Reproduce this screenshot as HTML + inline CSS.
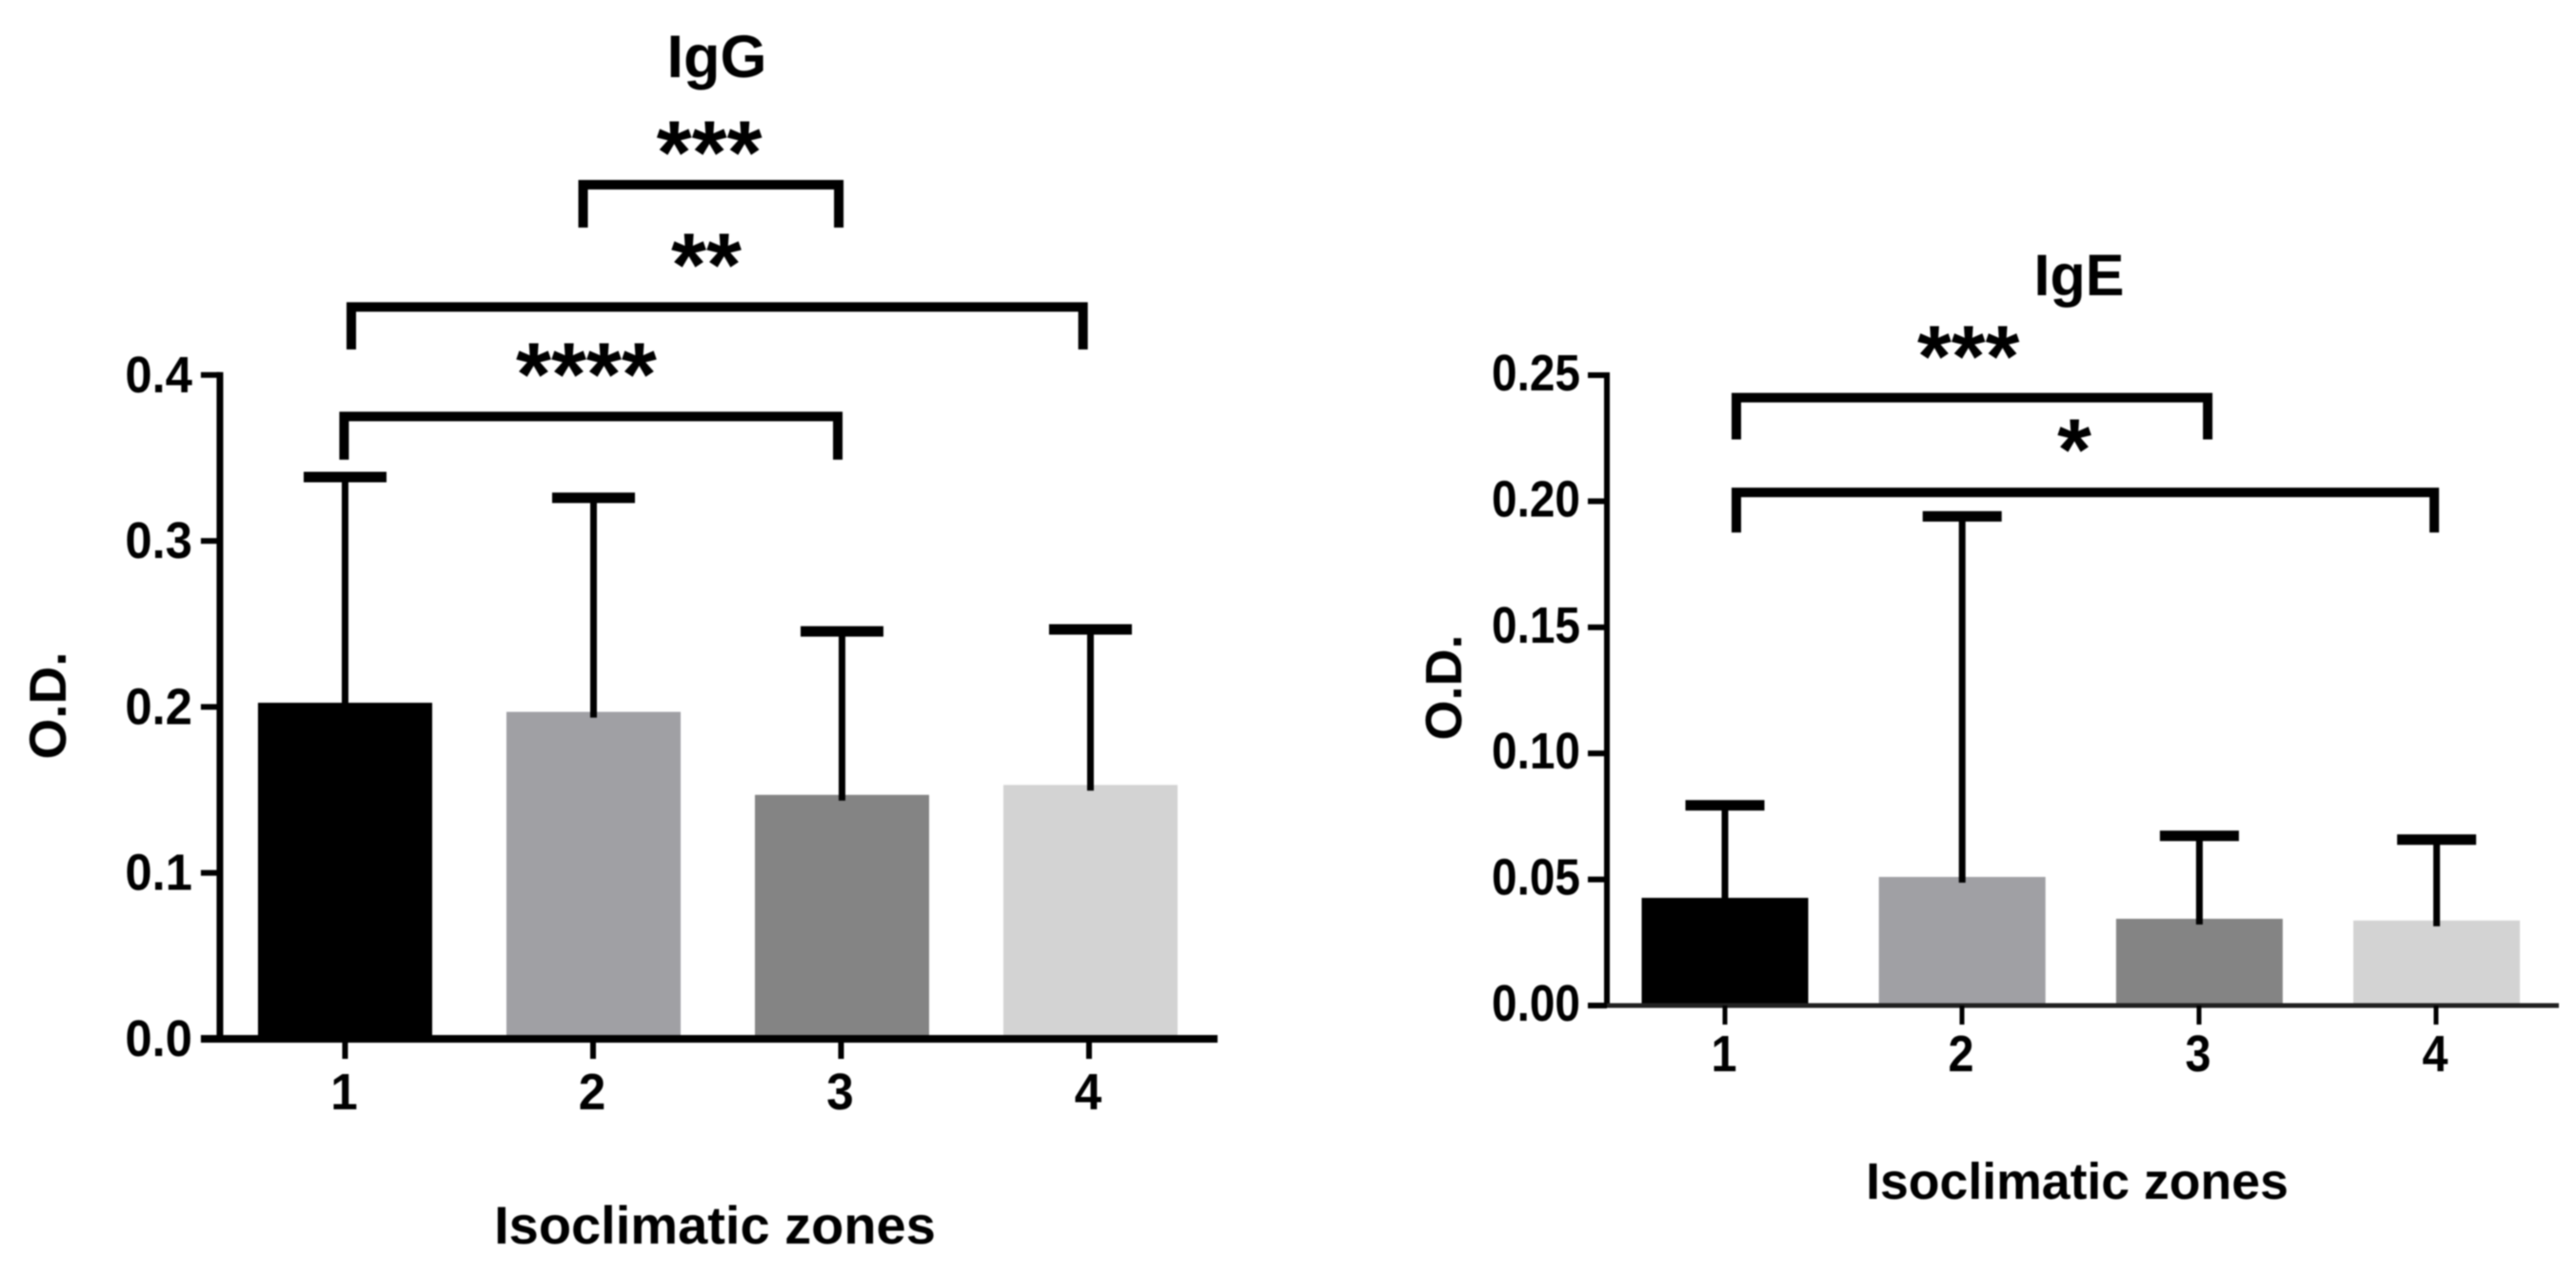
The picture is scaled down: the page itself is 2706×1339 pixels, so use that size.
<!DOCTYPE html>
<html lang="en">
<head>
<meta charset="utf-8">
<title>IgG and IgE by isoclimatic zone</title>
<style>
html,body{margin:0;padding:0;background:#fff;}
svg{display:block;filter:blur(0.9px);}
text{font-family:"Liberation Sans",sans-serif;font-weight:bold;fill:#000;}
</style>
</head>
<body>
<svg id="figure" xmlns="http://www.w3.org/2000/svg" width="2706" height="1339" viewBox="0 0 2706 1339">
  <rect x="0" y="0" width="2706" height="1339" fill="#fff"/>
  <g id="igg">
    <text x="753" y="81" font-size="63" text-anchor="middle">IgG</text>
    <text transform="translate(69 741) rotate(-90)" font-size="55" text-anchor="middle">O.D.</text>
    <text x="751" y="1306" font-size="56" text-anchor="middle">Isoclimatic zones</text>
  </g>
  <g id="ige">
    <text x="2184" y="310" font-size="61" text-anchor="middle">IgE</text>
    <text transform="translate(1535 722) rotate(-90)" font-size="54" text-anchor="middle">O.D.</text>
    <text x="2182" y="1259" font-size="53.6" text-anchor="middle">Isoclimatic zones</text>
  </g>
</svg>
<script>
const zones = ['1', '2', '3', '4'];
const barFills = ['#000000', '#a0a0a4', '#848484', '#d3d3d3'];

const iggMeans = [0.2025, 0.197, 0.147, 0.153];
const iggUpper = [0.3385, 0.326, 0.2455, 0.2467];
const iggTicks = [0, 0.1, 0.2, 0.3, 0.4];
const iggTickLabels = ['0.0', '0.1', '0.2', '0.3', '0.4'];
const iggSigLabels = ['***', '**', '****'];
const iggSigFrom = [1.958, 1.025, 0.996];
const iggSigTo = [2.987, 3.97, 2.983];
const iggSigLevel = [0.5146, 0.441, 0.375];
const iggSigFoot = [0.4888, 0.4154, 0.349];
const iggSigTextCat = [2.466, 2.454, 1.971];
const iggSigTextLevel = [0.5427, 0.475, 0.409];

const igeMeans = [0.0427, 0.051, 0.0344, 0.0337];
const igeUpper = [0.0794, 0.194, 0.0673, 0.0658];
const igeTicks = [0, 0.05, 0.1, 0.15, 0.2, 0.25];
const igeTickLabels = ['0.00', '0.05', '0.10', '0.15', '0.20', '0.25'];
const igeSigLabels = ['***', '*'];
const igeSigFrom = [1.048, 1.048];
const igeSigTo = [3.035, 3.99];
const igeSigLevel = [0.2411, 0.2035];
const igeSigFoot = [0.2245, 0.1876];
const igeSigTextCat = [2.026, 2.473];
const igeSigTextLevel = [0.2629, 0.2258];

const NS = 'http://www.w3.org/2000/svg';

function addRect(parent, x, y, w, h, fill) {
  const el = document.createElementNS(NS, 'rect');
  el.setAttribute('x', x);
  el.setAttribute('y', y);
  el.setAttribute('width', w);
  el.setAttribute('height', h);
  el.setAttribute('fill', fill);
  parent.appendChild(el);
  return el;
}

function addText(parent, str, x, y, size, anchor, sx) {
  const el = document.createElementNS(NS, 'text');
  el.setAttribute('transform', 'translate(' + x + ' ' + y + ') scale(' + sx + ' 1)');
  el.setAttribute('font-size', size);
  el.setAttribute('text-anchor', anchor);
  el.textContent = str;
  parent.appendChild(el);
  return el;
}

function drawChart(prefix, g, o, means, upper, ticks, tickLabels, sigLabels, sigFrom, sigTo, sigLevel, sigFoot, sigTextCat, sigTextLevel) {
  const xScale = c => o.x0 + (c - 1) * o.step;
  const xTickScale = c => o.x0 + (c - 1) * o.tickStep;
  const yScale = v => o.y0 - v * o.k;

  means.forEach((m, i) => {
    const cx = xScale(i + 1);
    const top = yScale(m);
    const bar = addRect(g, cx - o.barW / 2, top, o.barW, o.y0 - top, barFills[i]);
    
    

    const capY = yScale(upper[i]);
    const stem = addRect(g, cx - o.whiskerW / 2, capY, o.whiskerW, top + 6 - capY, '#000');
    
    
    const cap = addRect(g, cx - o.capW / 2, capY - o.capH / 2, o.capW, o.capH, '#000');
    
    
  });

  const yAxis = addRect(g, o.axisX - o.axisW / 2, yScale(ticks[ticks.length - 1]) - o.tickH / 2, o.axisW, o.y0 - yScale(ticks[ticks.length - 1]) + o.tickH / 2, '#000');
  
  

  const xAxis = addRect(g, o.xStart, o.y0 - o.baseH / 2, o.xEnd - o.xStart, o.baseH, o.baseFill);
  
  

  ticks.forEach((t, i) => {
    const y = yScale(t);
    const mark = addRect(g, o.xStart, y - o.tickH / 2, o.axisX - o.xStart, o.tickH, '#000');
    
    
    const lab = addText(g, tickLabels[i], o.yLabelX, y + o.yLabelDy, o.labelSize, 'end', o.yLabelScale);
    
    
  });

  zones.forEach((z, i) => {
    const cx = xTickScale(i + 1);
    const mark = addRect(g, cx - o.xTickW / 2, o.y0, o.xTickW, o.xTickLen, '#000');
    
    
    const lab = addText(g, z, cx - o.xLabelDx, o.xLabelY, o.labelSize, 'middle', o.xLabelScale);
    
    
  });

  sigLabels.forEach((s, i) => {
    const x1 = xScale(sigFrom[i]);
    const x2 = xScale(sigTo[i]);
    const yTop = yScale(sigLevel[i]);
    const yFoot = yScale(sigFoot[i]);
    const bracket = document.createElementNS(NS, 'path');
    bracket.setAttribute('d', 'M' + x1 + ' ' + yFoot + 'V' + yTop + 'H' + x2 + 'V' + yFoot);
    bracket.setAttribute('fill', 'none');
    bracket.setAttribute('stroke', '#000');
    bracket.setAttribute('stroke-width', o.bracketW);
    
    
    g.appendChild(bracket);
    const stars = addText(g, s, xScale(sigTextCat[i]), yScale(sigTextLevel[i]) + o.starSize * 0.5, o.starSize, 'middle', 1);
    
    
  });
}

drawChart('igg', document.getElementById('igg'), {
  x0: 362.5, step: 261, tickStep: 260.5, y0: 1091, k: 1743, barW: 183, whiskerW: 7, capW: 87, capH: 11,
  axisX: 231, axisW: 7, xStart: 211, xEnd: 1279, baseH: 8, baseFill: '#000', tickH: 6,
  xTickW: 6, xTickLen: 21, labelSize: 54, yLabelX: 202, yLabelDy: 18, yLabelScale: 0.94,
  xLabelY: 1165, xLabelDx: 1, xLabelScale: 0.95, bracketW: 10, starSize: 95
}, iggMeans, iggUpper, iggTicks, iggTickLabels, iggSigLabels, iggSigFrom, iggSigTo, iggSigLevel, iggSigFoot, iggSigTextCat, iggSigTextLevel);

drawChart('ige', document.getElementById('ige'), {
  x0: 1812, step: 249.2, tickStep: 249, y0: 1056, k: 2648, barW: 175, whiskerW: 7, capW: 83, capH: 11,
  axisX: 1688, axisW: 6, xStart: 1668, xEnd: 2688, baseH: 5, baseFill: '#222', tickH: 6,
  xTickW: 5, xTickLen: 20, labelSize: 54, yLabelX: 1660, yLabelDy: 16, yLabelScale: 0.885,
  xLabelY: 1125, xLabelDx: 1, xLabelScale: 0.9, bracketW: 10, starSize: 92
}, igeMeans, igeUpper, igeTicks, igeTickLabels, igeSigLabels, igeSigFrom, igeSigTo, igeSigLevel, igeSigFoot, igeSigTextCat, igeSigTextLevel);
</script>
</body>
</html>
